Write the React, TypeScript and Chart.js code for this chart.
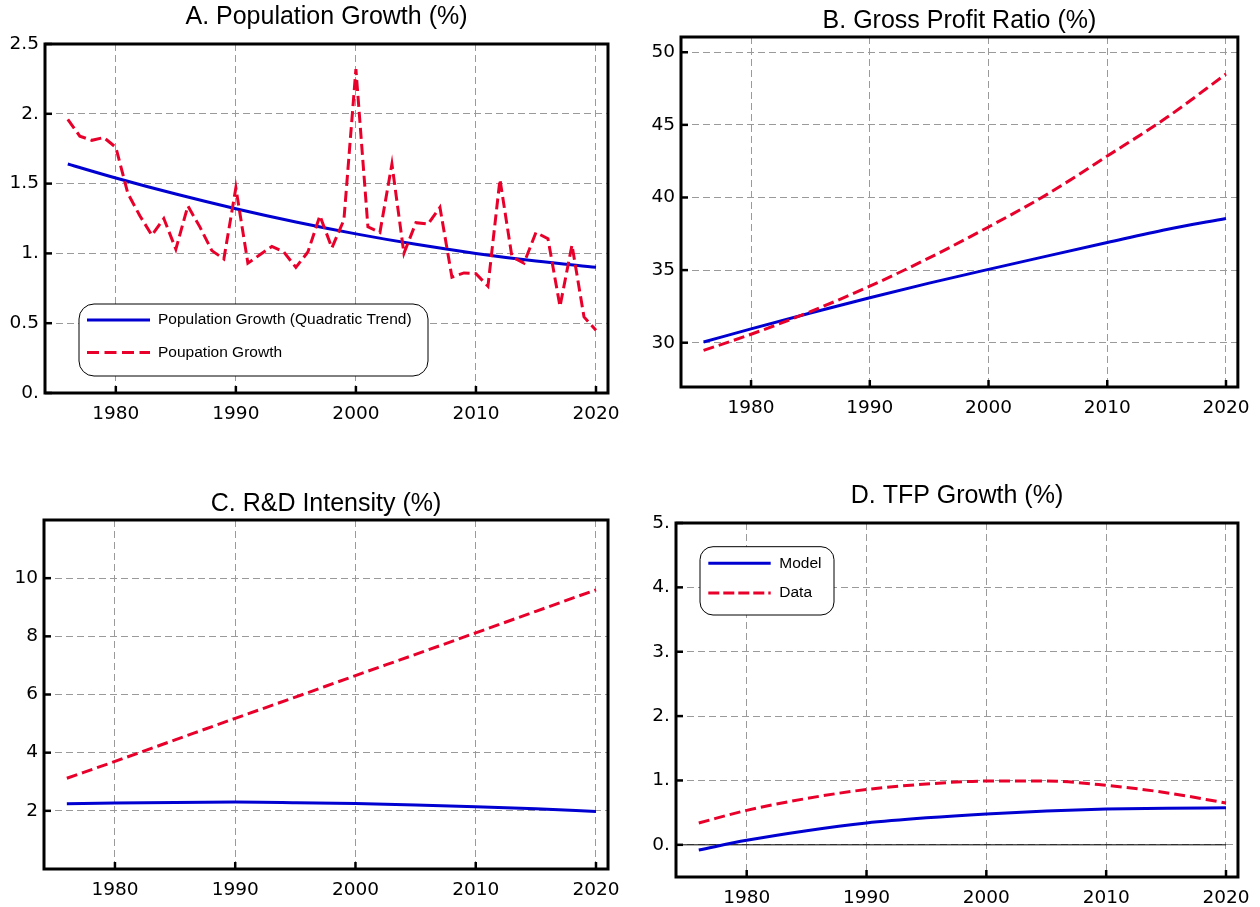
import React, { useEffect, useRef } from 'react';
import { Chart, registerables } from 'chart.js';

Chart.register(...registerables);

// ---------------- Data ----------------
const popYears = [
  1976, 1977, 1978, 1979, 1980, 1981, 1982, 1983, 1984, 1985, 1986, 1987, 1988, 1989, 1990,
  1991, 1992, 1993, 1994, 1995, 1996, 1997, 1998, 1999, 2000, 2001, 2002, 2003, 2004, 2005,
  2006, 2007, 2008, 2009, 2010, 2011, 2012, 2013, 2014, 2015, 2016, 2017, 2018, 2019, 2020,
];
const popGrowth = [
  1.96, 1.84, 1.81, 1.83, 1.76, 1.43, 1.27, 1.13, 1.25, 1.03, 1.34, 1.19, 1.02, 0.96, 1.47,
  0.93, 0.99, 1.05, 1.01, 0.9, 1.01, 1.27, 1.04, 1.24, 2.32, 1.19, 1.15, 1.64, 1.0, 1.22,
  1.21, 1.33, 0.83, 0.86, 0.855, 0.765, 1.53, 0.975, 0.93, 1.15, 1.105, 0.62, 1.06, 0.545, 0.45,
];

const trendYears = [1976, 1980, 1985, 1990, 1995, 2000, 2005, 2010, 2015, 2020];
const popTrend = [1.64, 1.54, 1.425, 1.32, 1.225, 1.14, 1.065, 1.0, 0.945, 0.9];

const profitModel = [30.05, 30.95, 32.05, 33.1, 34.1, 35.05, 35.98, 36.9, 37.8, 38.55];
const profitData = [29.47, 30.58, 32.14, 33.89, 35.84, 37.97, 40.25, 42.85, 45.5, 48.5];

const rdModel = [2.24, 2.27, 2.29, 2.3, 2.28, 2.25, 2.2, 2.14, 2.07, 1.98];
const rdData = [3.12, 3.7, 4.44, 5.18, 5.91, 6.65, 7.38, 8.12, 8.86, 9.6];

const tfpModel = [-0.08, 0.07, 0.22, 0.34, 0.42, 0.48, 0.525, 0.555, 0.57, 0.575];
const tfpData = [0.34, 0.535, 0.72, 0.86, 0.945, 0.99, 0.99, 0.925, 0.81, 0.65];

const xTicks = [1980, 1990, 2000, 2010, 2020];

const yTicksA = [0, 0.5, 1, 1.5, 2, 2.5];
const yLabelsA = ['0.', '0.5', '1.', '1.5', '2.', '2.5'];
const yTicksB = [30, 35, 40, 45, 50];
const yLabelsB = ['30', '35', '40', '45', '50'];
const yTicksC = [2, 4, 6, 8, 10];
const yLabelsC = ['2', '4', '6', '8', '10'];
const yTicksD = [0, 1, 2, 3, 4, 5];
const yLabelsD = ['0.', '1.', '2.', '3.', '4.', '5.'];

// ---------------- Styles ----------------
const BLUE = '#0000d0';
const RED = '#e8002b';
const GRID = '#9a9a9a';
const LINE_DASH = [11, 5];
const TICK_FONT = { family: '"DejaVu Sans", Verdana, sans-serif', size: 18.5 };

const pts = (xs: number[], ys: number[]) => xs.map((x, i) => ({ x, y: ys[i] }));

const decorPlugin = {
  id: 'decor',
  beforeDatasetsDraw(chart: any, _args: any, opts: any) {
    if (!opts || !opts.zeroLine) return;
    const { ctx, chartArea: a, scales } = chart;
    const y0 = scales.y.getPixelForValue(0);
    const xEnd = scales.x.getPixelForValue(opts.zeroLineEnd);
    ctx.save();
    ctx.strokeStyle = '#000';
    ctx.lineWidth = 1;
    ctx.beginPath();
    ctx.moveTo(a.left, y0);
    ctx.lineTo(xEnd, y0);
    ctx.stroke();
    ctx.restore();
  },
  afterDraw(chart: any, _args: any, opts: any) {
    const { ctx, chartArea: a, scales } = chart;
    const xs = scales.x;
    const ys = scales.y;
    ctx.save();
    ctx.strokeStyle = '#000';
    ctx.lineWidth = 2.5;
    ctx.setLineDash([]);
    ys.ticks.forEach((t: any) => {
      const py = ys.getPixelForValue(t.value);
      ctx.beginPath();
      ctx.moveTo(a.left, py);
      ctx.lineTo(a.left + 7, py);
      ctx.stroke();
    });
    xs.ticks.forEach((t: any) => {
      const px = xs.getPixelForValue(t.value);
      ctx.beginPath();
      ctx.moveTo(px, a.bottom);
      ctx.lineTo(px, a.bottom - 7);
      ctx.stroke();
    });
    ctx.lineWidth = 3;
    ctx.strokeRect(a.left, a.top, a.right - a.left, a.bottom - a.top);

    const lg = opts && opts.legend;
    if (lg) {
      const { x, y, w, h, r } = lg.box;
      ctx.beginPath();
      ctx.moveTo(x + r, y);
      ctx.lineTo(x + w - r, y);
      ctx.arcTo(x + w, y, x + w, y + r, r);
      ctx.lineTo(x + w, y + h - r);
      ctx.arcTo(x + w, y + h, x + w - r, y + h, r);
      ctx.lineTo(x + r, y + h);
      ctx.arcTo(x, y + h, x, y + h - r, r);
      ctx.lineTo(x, y + r);
      ctx.arcTo(x, y, x + r, y, r);
      ctx.closePath();
      ctx.fillStyle = '#fff';
      ctx.fill();
      ctx.lineWidth = 1;
      ctx.strokeStyle = '#000';
      ctx.stroke();
      chart.data.datasets.forEach((ds: any, i: number) => {
        const iy = lg.itemY[i];
        ctx.beginPath();
        ctx.setLineDash(ds.borderDash && ds.borderDash.length ? lg.dash : []);
        ctx.strokeStyle = ds.borderColor;
        ctx.lineWidth = 3;
        ctx.moveTo(lg.lineX[0], iy);
        ctx.lineTo(lg.lineX[1], iy);
        ctx.stroke();
        ctx.setLineDash([]);
        ctx.fillStyle = '#000';
        ctx.font = `${lg.fontSize}px "Liberation Sans", Arial, sans-serif`;
        ctx.textBaseline = 'middle';
        ctx.textAlign = 'left';
        ctx.fillText(ds.label, lg.textX, iy);
      });
    }
    ctx.restore();
  },
};

type PanelProps = {
  canvas: { left: number; top: number; w: number; h: number };
  area: { l: number; r: number; t: number; b: number };
  titleY: number;
  title: string;
  datasets: any[];
  yMin: number;
  yMax: number;
  yTicks: number[];
  yLabels: string[];
  legend?: any;
  zeroLine?: boolean;
};

function Panel(p: PanelProps) {
  const ref = useRef<HTMLCanvasElement | null>(null);
  useEffect(() => {
    if (!ref.current) return;
    const TITLE_SIZE = 25;
    const yAxisW = p.area.l - p.canvas.left;
    const padRight = p.canvas.left + p.canvas.w - p.area.r;
    const titlePadTop = p.titleY - p.canvas.top - TITLE_SIZE / 2;
    const titlePadBottom = p.area.t - p.canvas.top - titlePadTop - TITLE_SIZE;
    const xAxisH = p.canvas.top + p.canvas.h - p.area.b;
    let legend: any = undefined;
    if (p.legend) {
      const ox = p.canvas.left;
      const oy = p.canvas.top;
      legend = {
        box: { x: p.legend.box.x - ox, y: p.legend.box.y - oy, w: p.legend.box.w, h: p.legend.box.h, r: p.legend.box.r },
        itemY: p.legend.itemY.map((v: number) => v - oy),
        lineX: p.legend.lineX.map((v: number) => v - ox),
        textX: p.legend.textX - ox,
        fontSize: p.legend.fontSize,
        dash: p.legend.dash,
      };
    }
    const chart = new Chart(ref.current, {
      type: 'line',
      data: { datasets: p.datasets },
      plugins: [decorPlugin],
      options: {
        animation: false,
        responsive: false,
        events: [],
        layout: { padding: { left: 0, right: padRight, top: 0, bottom: 0 } },
        elements: { point: { radius: 0 }, line: { borderCapStyle: 'butt', borderJoinStyle: 'miter' } },
        plugins: {
          legend: { display: false },
          tooltip: { enabled: false },
          title: {
            display: true,
            text: p.title,
            color: '#000',
            fullSize: false,
            font: { family: '"Liberation Sans", Arial, sans-serif', size: TITLE_SIZE, weight: 'normal', lineHeight: 1 },
            padding: { top: titlePadTop, bottom: titlePadBottom },
          },
          decor: { legend, zeroLine: p.zeroLine, zeroLineEnd: 2020 },
        } as any,
        scales: {
          x: {
            type: 'linear',
            min: 1974.1,
            max: 2021.0,
            afterBuildTicks: (s: any) => {
              s.ticks = xTicks.map((v) => ({ value: v }));
            },
            afterFit: (s: any) => {
              s.height = xAxisH;
            },
            grid: { color: GRID, lineWidth: 1, drawTicks: false },
            border: { display: false, dash: [7, 4] },
            ticks: {
              color: '#000',
              font: TICK_FONT,
              padding: 10,
              maxRotation: 0,
              autoSkip: false,
              callback: (v: any) => String(v),
            },
          },
          y: {
            type: 'linear',
            min: p.yMin,
            max: p.yMax,
            afterBuildTicks: (s: any) => {
              s.ticks = p.yTicks.map((v) => ({ value: v }));
            },
            afterFit: (s: any) => {
              s.width = yAxisW;
            },
            grid: { color: GRID, lineWidth: 1, drawTicks: false },
            border: { display: false, dash: [7, 4] },
            ticks: {
              color: '#000',
              font: TICK_FONT,
              padding: 6,
              autoSkip: false,
              callback: (_v: any, i: number) => p.yLabels[i],
            },
          },
        },
      } as any,
    });
    return () => chart.destroy();
  }, []);
  return (
    <canvas
      ref={ref}
      width={p.canvas.w}
      height={p.canvas.h}
      style={{ position: 'absolute', left: p.canvas.left, top: p.canvas.top, width: p.canvas.w, height: p.canvas.h }}
    />
  );
}

const solid = (label: string, xs: number[], ys: number[], order: number) => ({
  label,
  data: pts(xs, ys),
  borderColor: BLUE,
  backgroundColor: BLUE,
  borderWidth: 3,
  fill: false,
  pointRadius: 0,
  cubicInterpolationMode: 'monotone',
  order,
});

const dashed = (label: string, xs: number[], ys: number[], order: number, smooth: boolean) => ({
  label,
  data: pts(xs, ys),
  borderColor: RED,
  backgroundColor: RED,
  borderWidth: 3,
  borderDash: LINE_DASH,
  fill: false,
  pointRadius: 0,
  tension: 0,
  cubicInterpolationMode: smooth ? 'monotone' : 'default',
  order,
});

export default function App() {
  return (
    <div style={{ position: 'fixed', left: 0, top: 0, width: 1260, height: 907, background: '#fff' }}>
      <Panel
        canvas={{ left: 0, top: 0, w: 630, h: 440 }}
        area={{ l: 45, r: 610, t: 44, b: 393 }}
        titleY={17}
        title="A. Population Growth (%)"
        datasets={[
          solid('Population Growth (Quadratic Trend)', trendYears, popTrend, 1),
          dashed('Poupation Growth', popYears, popGrowth, 0, false),
        ]}
        yMin={0}
        yMax={2.5}
        yTicks={yTicksA}
        yLabels={yLabelsA}
        legend={{
          box: { x: 79, y: 304, w: 349, h: 72, r: 15 },
          itemY: [320, 352.5],
          lineX: [87, 150],
          textX: 158,
          fontSize: 15.5,
          dash: [12, 5.5],
        }}
      />
      <Panel
        canvas={{ left: 630, top: 0, w: 630, h: 440 }}
        area={{ l: 681, r: 1246, t: 37, b: 387 }}
        titleY={21.5}
        title="B. Gross Profit Ratio (%)"
        datasets={[solid('Model', trendYears, profitModel, 1), dashed('Data', trendYears, profitData, 0, true)]}
        yMin={26.95}
        yMax={51.05}
        yTicks={yTicksB}
        yLabels={yLabelsB}
      />
      <Panel
        canvas={{ left: 0, top: 460, w: 630, h: 447 }}
        area={{ l: 44, r: 611, t: 520, b: 869 }}
        titleY={504.5}
        title="C. R&D Intensity (%)"
        datasets={[solid('Model', trendYears, rdModel, 1), dashed('Data', trendYears, rdData, 0, true)]}
        yMin={0}
        yMax={12}
        yTicks={yTicksC}
        yLabels={yLabelsC}
      />
      <Panel
        canvas={{ left: 630, top: 460, w: 630, h: 447 }}
        area={{ l: 676, r: 1246, t: 523, b: 877 }}
        titleY={496}
        title="D. TFP Growth (%)"
        datasets={[solid('Model', trendYears, tfpModel, 1), dashed('Data', trendYears, tfpData, 0, true)]}
        yMin={-0.5}
        yMax={5}
        yTicks={yTicksD}
        yLabels={yLabelsD}
        zeroLine
        legend={{
          box: { x: 700, y: 546.7, w: 134, h: 68.3, r: 13 },
          itemY: [563.3, 593],
          lineX: [708.3, 770.7],
          textX: 779.3,
          fontSize: 15.5,
          dash: [11, 4],
        }}
      />
    </div>
  );
}
